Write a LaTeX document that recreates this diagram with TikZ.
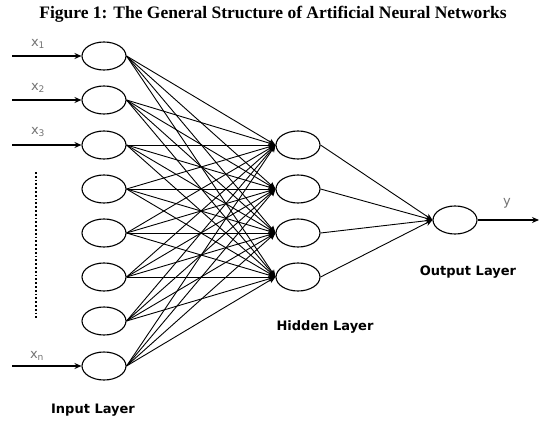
\documentclass[tikz,border=0pt]{standalone}
\usepackage{fontspec}
\setmainfont{Liberation Serif}
\newfontfamily\lblfont{DejaVu Sans}
\usetikzlibrary{arrows.meta,shapes.geometric}
\begin{document}
\begin{tikzpicture}[x=1pt,y=-1pt,
  neuron/.style={draw,ellipse,line width=1.1pt,minimum width=44pt,minimum height=28pt,inner sep=0pt},
  conn/.style={line width=0.9pt,-{Stealth[length=7pt,width=6pt]}},
  inarrow/.style={line width=1.2pt,-{Stealth[length=7pt,width=6pt]}},
  xlabel/.style={font=\lblfont\fontsize{13}{13}\selectfont,text=black!55},
  layerlabel/.style={font=\lblfont\bfseries\fontsize{13}{13}\selectfont}]
\useasboundingbox (0,0) rectangle (546,428);
\node[font=\bfseries\fontsize{17.5}{17.5}\selectfont] (title) at (273,14) {Figure 1: The General Structure of Artificial Neural Networks};
% input nodes
\foreach \i/\y in {1/56,2/100,3/145,4/189,5/233,6/277,7/321,8/366}{
  \node[neuron] (i\i) at (104,\y) {};
}
% hidden nodes
\foreach \j/\y in {1/145,2/189,3/233,4/277}{
  \node[neuron] (h\j) at (298,\y) {};
}
\node[neuron] (o) at (455,220) {};
% input arrows
\foreach \i/\y in {1/56,2/100,3/145,8/366}{
  \coordinate (s\i) at (12,\y);
  \draw[inarrow] (s\i) -- (i\i.west);
}
\node[xlabel] (l1) at (38,44) {x\textsubscript{1}};
\node[xlabel] (l2) at (38,88) {x\textsubscript{2}};
\node[xlabel] (l3) at (38,132) {x\textsubscript{3}};
\node[xlabel] (ln) at (37,356) {x\textsubscript{n}};
\coordinate (d1) at (36,172);
\coordinate (d2) at (36,318);
\draw[line width=1.8pt,dotted] (d1) -- (d2);
% connections
\foreach \i in {1,...,8}{
  \foreach \j in {1,...,4}{
    \draw[conn] (i\i.east) -- (h\j.west);
  }
}
\foreach \j in {1,...,4}{
  \draw[conn] (h\j.east) -- (o.west);
}
\coordinate (yend) at (539,220);
\draw[inarrow] (o.east) -- (yend);
\node[xlabel] (yl) at (507,203) {y};
\node[layerlabel] (ol) at (468,272) {Output Layer};
\node[layerlabel] (hl) at (325,327) {Hidden Layer};
\node[layerlabel] (il) at (93,410) {Input Layer};
\end{tikzpicture}
\end{document}
